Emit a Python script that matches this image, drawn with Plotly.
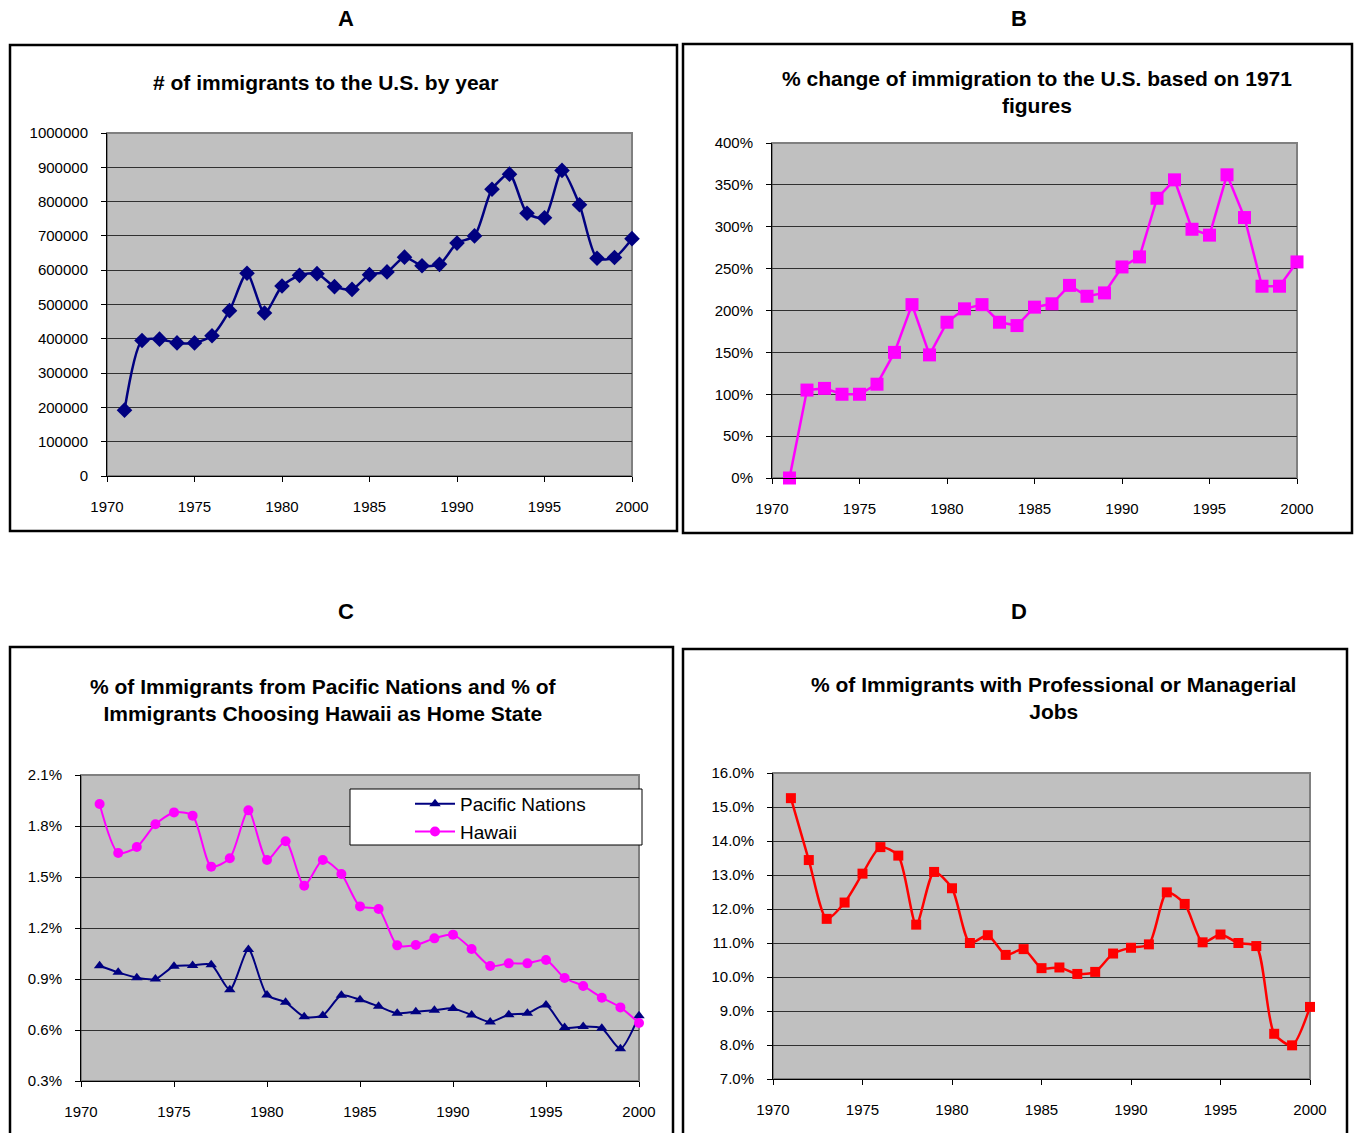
import plotly.graph_objects as go

W, H = 1355, 1133
years = list(range(1971, 2001))

# Panel A: number of immigrants
immigrants = [192000, 395000, 399000, 388000, 388000, 409000, 482000, 591000, 475000, 554000,
              585000, 590000, 552000, 544000, 587000, 595000, 638000, 613000, 617000, 679000,
              700000, 836000, 880000, 766000, 753000, 891000, 791000, 635000, 637000, 692000]

# Panel B: % change vs 1971
pct_change = [0, 105, 107, 100, 100, 112, 150, 207, 147, 186,
              202, 207, 186, 182, 204, 208, 230, 217, 221, 252,
              264, 334, 356, 297, 290, 362, 311, 229, 229, 258]

# Panel C: Pacific Nations and Hawaii (%)
pacific = [0.978, 0.939, 0.908, 0.900, 0.975, 0.980, 0.984, 0.837, 1.073, 0.806,
           0.763, 0.678, 0.686, 0.804, 0.778, 0.739, 0.698, 0.708, 0.716, 0.727,
           0.688, 0.647, 0.690, 0.698, 0.747, 0.614, 0.620, 0.610, 0.490, 0.684]
hawaii = [1.929, 1.641, 1.676, 1.810, 1.880, 1.861, 1.561, 1.610, 1.892, 1.600,
          1.710, 1.449, 1.600, 1.518, 1.327, 1.312, 1.098, 1.100, 1.139, 1.161,
          1.076, 0.976, 0.992, 0.992, 1.012, 0.906, 0.859, 0.790, 0.733, 0.641]

# Panel D: professional / managerial (%)
professional = [15.26, 13.44, 11.71, 12.19, 13.04, 13.82, 13.57, 11.54, 13.09, 12.61,
                11.00, 11.23, 10.65, 10.82, 10.26, 10.28, 10.09, 10.15, 10.69, 10.86,
                10.96, 12.49, 12.15, 11.02, 11.25, 11.00, 10.91, 8.33, 7.99, 9.12]

FONT = "Liberation Sans, Arial, sans-serif"
NAVY = "#000080"
MAGENTA = "#FF00FF"
RED = "#FF0000"


def px(x):
    return x / W


def py(y):
    return 1 - y / H


fig = go.Figure()

fig.add_trace(go.Scatter(x=years, y=immigrants, mode="lines+markers", xaxis="x", yaxis="y",
                         line=dict(color=NAVY, width=2.5, shape="spline", smoothing=0.7),
                         marker=dict(symbol="diamond", size=12, color=NAVY),
                         cliponaxis=False, showlegend=False))
fig.add_trace(go.Scatter(x=years, y=pct_change, mode="lines+markers", xaxis="x2", yaxis="y2",
                         line=dict(color=MAGENTA, width=2.5),
                         marker=dict(symbol="square", size=13, color=MAGENTA),
                         cliponaxis=False, showlegend=False))
fig.add_trace(go.Scatter(x=years, y=pacific, mode="lines+markers", xaxis="x3", yaxis="y3",
                         name="Pacific Nations",
                         line=dict(color=NAVY, width=2, shape="spline", smoothing=0.7),
                         marker=dict(symbol="triangle-up", size=10, color=NAVY),
                         cliponaxis=False, showlegend=True))
fig.add_trace(go.Scatter(x=years, y=hawaii, mode="lines+markers", xaxis="x3", yaxis="y3",
                         name="Hawaii",
                         line=dict(color=MAGENTA, width=2, shape="spline", smoothing=0.7),
                         marker=dict(symbol="circle", size=10, color=MAGENTA),
                         cliponaxis=False, showlegend=True))
fig.add_trace(go.Scatter(x=years, y=professional, mode="lines+markers", xaxis="x4", yaxis="y4",
                         line=dict(color=RED, width=2.5, shape="spline", smoothing=0.7),
                         marker=dict(symbol="square", size=10, color=RED),
                         cliponaxis=False, showlegend=False))

areas = {
    "": (107, 632, 133, 476),
    "2": (772, 1297, 143, 478),
    "3": (81, 639, 775, 1081),
    "4": (773, 1310, 773, 1079),
}
yspecs = {
    "": dict(range=[0, 1000000], dtick=100000, tickformat="d", ticksuffix=""),
    "2": dict(range=[0, 400], dtick=50, tickformat="d", ticksuffix="%"),
    "3": dict(range=[0.3, 2.1], dtick=0.3, tickformat=".1f", ticksuffix="%"),
    "4": dict(range=[7, 16], dtick=1, tickformat=".1f", ticksuffix="%"),
}

tickfont = dict(family=FONT, size=15, color="black")
shapes = []
for k, (l, r, t, b) in areas.items():
    xa = "xaxis" + k
    ya = "yaxis" + k
    fig.layout[xa] = dict(domain=[px(l), px(r)], range=[1970, 2000], tick0=1970, dtick=5,
                          anchor="y" + k, showgrid=False, zeroline=False, automargin=False,
                          showline=True, linecolor="black", linewidth=1,
                          ticks="outside", ticklen=5, tickcolor="black",
                          tickfont=tickfont, ticklabelstandoff=12, fixedrange=True)
    ys = yspecs[k]
    fig.layout[ya] = dict(domain=[py(b), py(t)], range=ys["range"], dtick=ys["dtick"],
                          tick0=ys["range"][0], tickformat=ys["tickformat"],
                          ticksuffix=ys["ticksuffix"], anchor="x" + k, automargin=False,
                          showgrid=True, gridcolor="#303030", gridwidth=1, zeroline=False,
                          showline=True, linecolor="black", linewidth=1,
                          ticks="outside", ticklen=5, tickcolor="black",
                          tickfont=tickfont, ticklabelstandoff=10, fixedrange=True)
    shapes.append(dict(type="rect", xref="paper", yref="paper",
                       x0=px(l), x1=px(r), y0=py(b), y1=py(t),
                       line=dict(color="#808080", width=2), layer="below"))

for (x0, y0, x1, y1) in [(10, 45, 677, 531), (683, 44, 1352, 533),
                         (10, 647, 673, 1140), (683, 649, 1347, 1140)]:
    shapes.append(dict(type="rect", xref="paper", yref="paper",
                       x0=px(x0), x1=px(x1), y0=py(y1), y1=py(y0),
                       line=dict(color="black", width=2.5), fillcolor="rgba(0,0,0,0)"))

shapes.append(dict(type="rect", xref="paper", yref="paper",
                   x0=px(350), x1=px(642), y0=py(845), y1=py(789),
                   line=dict(color="black", width=1), fillcolor="white", layer="above"))

annotations = []
for txt, x, y in [("A", 346, 18), ("B", 1019, 18), ("C", 346, 611), ("D", 1019, 611)]:
    annotations.append(dict(text="<b>%s</b>" % txt, x=px(x), y=py(y), xref="paper", yref="paper",
                            showarrow=False, xanchor="center", yanchor="middle",
                            font=dict(family=FONT, size=22, color="black")))

titles = [
    ("<b># of immigrants to the U.S. by year</b>", 325, 82),
    ("<b>% change of immigration to the U.S. based on 1971<br>figures</b>", 1037, 92),
    ("<b>% of Immigrants from Pacific Nations and % of<br>Immigrants Choosing Hawaii as Home State</b>", 323, 700),
    ("<b>% of Immigrants with Professional or Managerial<br>Jobs</b>", 1053, 698),
]
for txt, x, y in titles:
    annotations.append(dict(text=txt, x=px(x), y=py(y), xref="paper", yref="paper",
                            showarrow=False, xanchor="center", yanchor="middle",
                            font=dict(family=FONT, size=21, color="black")))

fig.update_layout(
    width=W, height=H, margin=dict(l=0, r=0, t=0, b=0, autoexpand=False),
    paper_bgcolor="white", plot_bgcolor="#C0C0C0",
    font=dict(family=FONT, color="black"),
    shapes=shapes, annotations=annotations,
    legend=dict(x=px(410), y=py(785), xanchor="left", yanchor="top",
                bgcolor="rgba(0,0,0,0)", borderwidth=0,
                font=dict(family=FONT, size=19, color="black"),
                itemwidth=40, tracegroupgap=0),
    hovermode=False,
)

fig.write_html("out.html", config={"displayModeBar": False},
               post_script="document.body.style.margin='0';document.body.style.overflow='hidden';")
